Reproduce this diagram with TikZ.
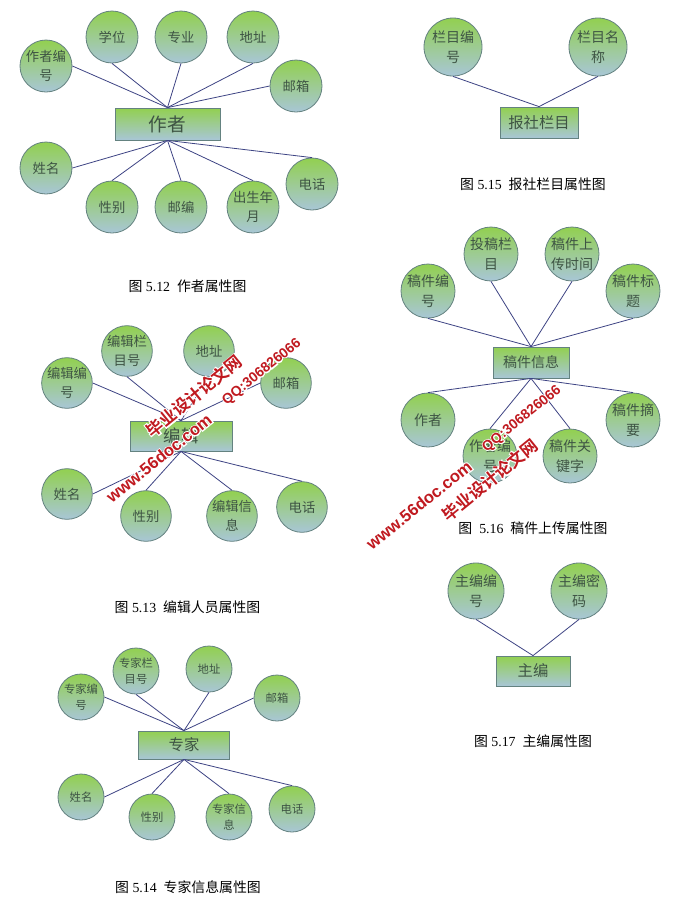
\documentclass[tikz,border=0pt]{standalone}
\usepackage{fontspec}
\setmainfont{Liberation Serif}
\newfontfamily\cjk{Noto Sans CJK SC}
\newfontfamily\cjkfat[FakeBold=14]{Noto Sans CJK SC Bold}
\newfontfamily\cjkbold{Noto Sans CJK SC Bold}
\newfontfamily\wmsans{Liberation Sans Bold}
\newfontfamily\wmfat[FakeBold=14]{Liberation Sans Bold}
\definecolor{attrtop}{RGB}{146,208,80}
\definecolor{attrbot}{RGB}{168,198,214}
\definecolor{attrline}{RGB}{100,130,128}
\definecolor{linkblue}{RGB}{62,68,132}
\definecolor{attrtext}{RGB}{62,84,68}
\definecolor{wmred}{RGB}{192,26,32}
\tikzset{
    attr/.style={circle,draw=attrline,semithick,top color=attrtop,bottom color=attrbot,
        minimum size=#1,inner sep=0pt,align=center,text=attrtext,font=\cjk\fontsize{10}{14}\selectfont},
    ent/.style={rectangle,draw=attrline,semithick,top color=attrtop,bottom color=attrbot,
        inner sep=0pt,text=attrtext},
    link/.style={draw=linkblue,semithick},
    figcap/.style={font=\fontsize{10.4}{12}\selectfont},
    wmark/.style={rotate=39,text=wmred,font=\fontsize{#1}{#1}\selectfont}
}
\newcommand{\hz}[1]{{\cjk #1}}
\newcommand{\wmcn}{\rlap{\color{white}\cjkfat 毕业设计论文网}{\cjkbold 毕业设计论文网}}
\newcommand{\wmweb}{\rlap{\color{white}\wmfat www.56doc.com}{\wmsans www.56doc.com}}
\newcommand{\wmqq}{\rlap{\color{white}\wmfat QQ:306826066}{\wmsans QQ:306826066}}
\begin{document}
\begin{tikzpicture}[x=0.75pt,y=-0.75pt]
\useasboundingbox[fill=white](0,0)rectangle(692,900);

% 5.12
\node[ent,minimum width=78.75pt,minimum height=24pt,font=\cjk\fontsize{14}{14}\selectfont](zz)at(167.5,124){作者};
\node[attr=39pt](zz1)at(46,66){作者编\\号};
\node[attr=39pt](zz2)at(112,37){学位};
\node[attr=39pt](zz3)at(181,37){专业};
\node[attr=39pt](zz4)at(253,37){地址};
\node[attr=39pt](zz5)at(296,86){邮箱};
\node[attr=39pt](zz6)at(46,168){姓名};
\node[attr=39pt](zz7)at(112,207){性别};
\node[attr=39pt](zz8)at(181,207){邮编};
\node[attr=39pt](zz9)at(253,207){出生年\\月};
\node[attr=39pt](zz10)at(312,184){电话};
\foreach \a/\b in {zz1/east,zz2/south,zz3/south,zz4/south,zz5/west}
{
    \draw[link](zz.north)--(\a.\b);
}
\foreach \a/\b in {zz6/east,zz7/north,zz8/north,zz9/north,zz10/north}
{
    \draw[link](zz.south)--(\a.\b);
}
\node[figcap](cap12)at(187.5,286){\hz{图} 5.12\ \ \hz{作者属性图}};

% 5.13
\node[ent,minimum width=76.5pt,minimum height=22.5pt,font=\cjk\fontsize{13}{13}\selectfont](bj)at(181,436){编辑};
\node[attr=38pt](bj1)at(67,383){编辑编\\号};
\node[attr=38pt](bj2)at(127,351){编辑栏\\目号};
\node[attr=38pt](bj3)at(209,351){地址};
\node[attr=38pt](bj4)at(286,383){邮箱};
\node[attr=38pt](bj5)at(67,494){姓名};
\node[attr=38pt](bj6)at(146,516){性别};
\node[attr=38pt](bj7)at(232,516){编辑信\\息};
\node[attr=38pt](bj8)at(302,507){电话};
\foreach \a/\b in {bj1/east,bj2/south,bj3/south,bj4/west}
{
    \draw[link](bj.north)--(\a.\b);
}
\foreach \a/\b in {bj5/east,bj6/north,bj7/north,bj8/north}
{
    \draw[link](bj.south)--(\a.\b);
}
\node[figcap](cap13)at(187.5,607){\hz{图} 5.13\ \ \hz{编辑人员属性图}};

% 5.14
\node[ent,minimum width=68.25pt,minimum height=21pt,font=\cjk\fontsize{11.5}{11.5}\selectfont](zj)at(184,745){专家};
\tikzset{zjattr/.style={attr=34.5pt,font=\cjk\fontsize{8.5}{11.5}\selectfont}}
\node[zjattr](zj1)at(81,697){专家编\\号};
\node[zjattr](zj2)at(136,671){专家栏\\目号};
\node[zjattr](zj3)at(209,669){地址};
\node[zjattr](zj4)at(277,698){邮箱};
\node[zjattr](zj5)at(81,797){姓名};
\node[zjattr](zj6)at(152,817){性别};
\node[zjattr](zj7)at(229,817){专家信\\息};
\node[zjattr](zj8)at(292,809){电话};
\foreach \a/\b in {zj1/east,zj2/south,zj3/south,zj4/west}
{
    \draw[link](zj.north)--(\a.\b);
}
\foreach \a/\b in {zj5/east,zj6/north,zj7/north,zj8/north}
{
    \draw[link](zj.south)--(\a.\b);
}
\node[figcap](cap14)at(188,887){\hz{图} 5.14\ \ \hz{专家信息属性图}};

% 5.15
\node[ent,minimum width=58.5pt,minimum height=23.25pt,font=\cjk\fontsize{11.5}{11.5}\selectfont](lm)at(539,122.5){报社栏目};
\tikzset{bigattr/.style={attr=43.5pt,font=\cjk\fontsize{10.5}{15}\selectfont}}
\node[bigattr](lm1)at(453,47){栏目编\\号};
\node[bigattr](lm2)at(598,47){栏目名\\称};
\draw[link](lm.north)--(lm1.south);
\draw[link](lm.north)--(lm2.south);
\node[figcap](cap15)at(533,184){\hz{图} 5.15\ \ \hz{报社栏目属性图}};

% 5.16
\node[ent,minimum width=57pt,minimum height=23.25pt,font=\cjk\fontsize{10.5}{10.5}\selectfont](gj)at(531,362.5){稿件信息};
\tikzset{midattr/.style={attr=40.5pt,font=\cjk\fontsize{10.5}{15}\selectfont}}
\node[midattr](gj1)at(428,291){稿件编\\号};
\node[midattr](gj2)at(491,254){投稿栏\\目};
\node[midattr](gj3)at(572,254){稿件上\\传时间};
\node[midattr](gj4)at(633,291){稿件标\\题};
\node[midattr](gj5)at(428,420){作者};
\node[midattr](gj6)at(490,456){作者编\\号};
\node[midattr](gj7)at(570,456){稿件关\\键字};
\node[midattr](gj8)at(633,420){稿件摘\\要};
\foreach \a/\b in {gj1/south,gj2/south,gj3/south,gj4/south}
{
    \draw[link](gj.north)--(\a.\b);
}
\foreach \a/\b in {gj5/north,gj6/north,gj7/north,gj8/north}
{
    \draw[link](gj.south)--(\a.\b);
}
\node[figcap](cap16)at(533,528){\hz{图}\ \ 5.16\ \ \hz{稿件上传属性图}};

% 5.17
\node[ent,minimum width=55.5pt,minimum height=22.5pt,font=\cjk\fontsize{11.5}{11.5}\selectfont](zb)at(533,671){主编};
\tikzset{zbattr/.style={attr=42pt,font=\cjk\fontsize{10.5}{15}\selectfont}}
\node[zbattr](zb1)at(476,591){主编编\\号};
\node[zbattr](zb2)at(579,591){主编密\\码};
\draw[link](zb.north)--(zb1.south);
\draw[link](zb.north)--(zb2.south);
\node[figcap](cap17)at(533,741){\hz{图} 5.17\ \ \hz{主编属性图}};

% watermark
\node[wmark=12.6](wa)at(194,396){\wmcn};
\node[wmark=12.5](wb)at(159,458){\wmweb};
\node[wmark=10.5](wc)at(262,372){\wmqq};
\node[wmark=12.6](wd)at(490,480){\wmcn};
\node[wmark=12.5](we)at(419,505){\wmweb};
\node[wmark=10.5](wf)at(522,419){\wmqq};
\end{tikzpicture}
\end{document}
